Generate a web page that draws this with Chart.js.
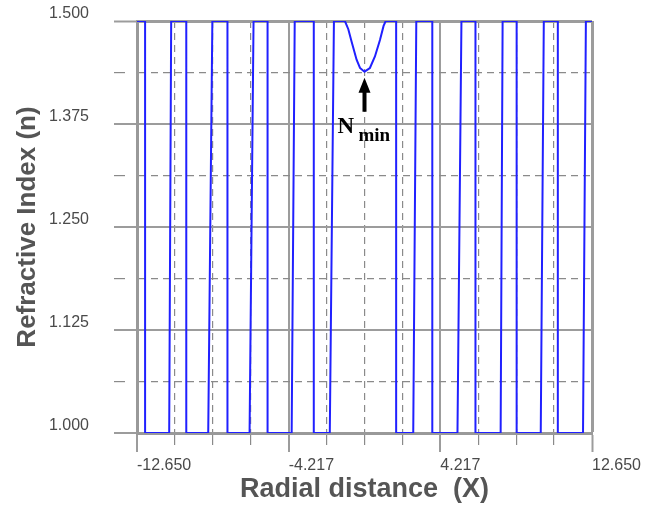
<!DOCTYPE html>
<html>
<head>
<meta charset="utf-8">
<script src="https://cdn.jsdelivr.net/npm/chart.js@4.4.1/dist/chart.umd.min.js"></script>
<style>
  html, body { margin: 0; padding: 0; background: #fff; }
  #profile { display: block; }
</style>
</head>
<body>
<canvas id="profile" width="671" height="508"></canvas>
<script>
// refractive index profile across the fibre
var radialX = [-12.65, -12.20, -12.20, -10.86, -10.75, -9.91, -9.91, -8.69, -8.46, -7.62, -7.62,
  -6.39, -6.17, -5.39, -5.39, -4.05, -3.88, -2.82, -2.82, -1.93, -1.70,
  -1.09, -0.90, -0.72, -0.44, -0.25, 0, 0.30, 0.58, 0.86, 1.06, 1.18,
  1.76, 1.76, 2.71, 2.88, 3.77, 3.77, 5.17, 5.39, 6.17, 6.17, 7.57, 7.68,
  8.46, 8.46, 9.80, 9.97, 10.75, 10.75, 12.15, 12.31, 12.65];
var indexN = [1.5, 1.5, 1.0, 1.0, 1.5, 1.5, 1.0, 1.0, 1.5, 1.5, 1.0,
  1.0, 1.5, 1.5, 1.0, 1.0, 1.5, 1.5, 1.0, 1.0, 1.5,
  1.5, 1.490, 1.475, 1.453, 1.443, 1.4385, 1.443, 1.457, 1.477, 1.494, 1.5,
  1.5, 1.0, 1.0, 1.5, 1.5, 1.0, 1.0, 1.5, 1.5, 1.0, 1.0, 1.5,
  1.5, 1.0, 1.0, 1.5, 1.5, 1.0, 1.0, 1.5, 1.5];

var xTicks = [-12.65, -10.5417, -8.4333, -6.325, -4.2167, -2.1083, 0, 2.1083, 4.2167, 6.325, 8.4333, 10.5417, 12.65];
var xTickLabels = ['-12.650', '', '', '', '-4.217', '', '', '', '4.217', '', '', '', '12.650'];
var yTicks = [1.0, 1.0625, 1.125, 1.1875, 1.25, 1.3125, 1.375, 1.4375, 1.5];
var yTickLabels = ['1.000', '', '1.125', '', '1.250', '', '1.375', '', '1.500'];

// N min marker sits under the dip
var nMinX = 0;
var nMinTipN = 1.431;

var points = radialX.map(function (x, i) { return { x: x, y: indexN[i] }; });

function major(labels) {
  return function (c) { return labels[c.index] !== ''; };
}

function gridFor(labels, tickLen, minorLen) {
  var isMajor = major(labels);
  return {
    color: function (c) { return isMajor(c) ? '#9c9c9c' : '#8a8a8a'; },
    lineWidth: function (c) {
      if (c.index === labels.length - 1) return 3;
      return isMajor(c) ? 2 : 1.2;
    },
    tickLength: tickLen,
    tickColor: function (c) { return isMajor(c) ? '#9c9c9c' : '#8a8a8a'; },
    tickWidth: function (c) { return isMajor(c) ? 2 : 1.2; },
    tickBorderDash: function (c) { return isMajor(c) ? [] : [minorLen, 1000]; }
  };
}

function borderFor(labels) {
  var isMajor = major(labels);
  return {
    display: true,
    width: 3,
    color: '#999999',
    dash: function (c) { return isMajor(c) ? [] : [7, 5]; }
  };
}

var nMinMarker = {
  id: 'nMinMarker',
  afterDatasetsDraw: function (chart) {
    var ctx = chart.ctx;
    var x = chart.scales.x.getPixelForValue(nMinX);
    var tip = chart.scales.y.getPixelForValue(nMinTipN);
    ctx.save();
    ctx.fillStyle = '#000';
    ctx.beginPath();
    ctx.moveTo(x, tip);
    ctx.lineTo(x + 6, tip + 15);
    ctx.lineTo(x + 2, tip + 15);
    ctx.lineTo(x + 2, tip + 34);
    ctx.lineTo(x - 2, tip + 34);
    ctx.lineTo(x - 2, tip + 15);
    ctx.lineTo(x - 6, tip + 15);
    ctx.closePath();
    ctx.fill();
    ctx.textBaseline = 'alphabetic';
    ctx.textAlign = 'left';
    ctx.font = 'bold 23px "Liberation Serif"';
    ctx.fillText('N', x - 27, tip + 55);
    ctx.font = 'bold 19px "Liberation Serif"';
    ctx.fillText('min', x - 6, tip + 63);
    ctx.restore();
  }
};

var ctx = document.getElementById('profile').getContext('2d');
var chart = new Chart(ctx, {
  type: 'line',
  data: {
    datasets: [{
      data: points,
      borderColor: '#2020ff',
      borderWidth: 2,
      pointRadius: 0,
      tension: 0,
      fill: false
    }]
  },
  options: {
    responsive: false,
    animation: false,
    layout: { padding: { left: 12, top: 21, right: 79, bottom: 0 } },
    plugins: { legend: { display: false }, tooltip: { enabled: false } },
    scales: {
      x: {
        type: 'linear',
        min: -12.65,
        max: 12.65,
        afterBuildTicks: function (axis) {
          axis.ticks = xTicks.map(function (v) { return { value: v }; });
        },
        afterFit: function (axis) {
          axis.height = 75;
          axis.paddingLeft = 0;
          axis.paddingRight = 0;
        },
        ticks: {
          autoSkip: false,
          maxRotation: 0,
          align: 'start',
          padding: 4,
          color: '#4a4a4a',
          font: { family: '"Liberation Sans"', size: 16 },
          callback: function (v, i) { return xTickLabels[i]; }
        },
        grid: gridFor(xTickLabels, 19, 10),
        border: borderFor(xTickLabels),
        title: {
          display: true,
          text: 'Radial distance  (X)',
          color: '#555555',
          font: { family: '"Liberation Sans"', size: 27, weight: 'bold' },
          padding: { top: 0, bottom: 2 }
        }
      },
      y: {
        min: 1.0,
        max: 1.5,
        afterBuildTicks: function (axis) {
          axis.ticks = yTicks.map(function (v) { return { value: v }; });
        },
        afterFit: function (axis) {
          axis.width = 125;
          axis.paddingTop = 0;
          axis.paddingBottom = 0;
        },
        ticks: {
          autoSkip: false,
          padding: 25,
          labelOffset: -7,
          color: '#4a4a4a',
          font: { family: '"Liberation Sans"', size: 16 },
          callback: function (v, i) { return yTickLabels[i]; }
        },
        grid: gridFor(yTickLabels, 23, 11),
        border: borderFor(yTickLabels),
        title: {
          display: true,
          text: 'Refractive Index (n)',
          color: '#555555',
          font: { family: '"Liberation Sans"', size: 26, weight: 'bold' },
          padding: { top: 0, bottom: 0 }
        }
      }
    }
  },
  plugins: [nMinMarker]
});
</script>
</body>
</html>
